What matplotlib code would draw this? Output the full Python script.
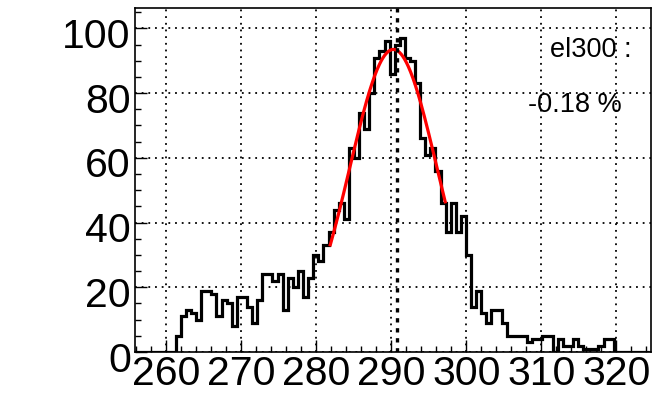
import numpy as np
import matplotlib
matplotlib.use("Agg")
import matplotlib.pyplot as plt
import matplotlib.transforms as mtransforms
from matplotlib.ticker import MultipleLocator

plt.rcParams["font.family"] = ["Liberation Sans", "DejaVu Sans"]

# reconstructed energy histogram, el300 run
x_lo = 255.9
x_hi = 324.6
bin_w = 0.678
counts = [0, 0, 0, 0, 0, 0, 0, 0,
          5, 11, 13, 12, 10, 19, 19, 18, 11, 16,
          15, 8, 17, 17, 14, 9, 16, 24, 24, 22,
          24, 13, 23, 20, 25, 17, 23, 30, 28, 33,
          37, 44, 46, 41, 63, 60, 74, 69, 80, 91,
          93, 96, 86, 95, 97, 91, 90, 83, 66, 61,
          63, 56, 46, 37, 46, 37, 42, 30, 14, 19,
          12, 9, 13, 13, 9, 5, 5, 5, 5, 3,
          4, 4, 5, 5, 0, 4, 2, 2, 4, 2,
          1, 1, 1, 2, 4, 4,
          0, 0, 0, 0, 0, 0, 0]

# gaussian fit around the peak
fit_amp = 93.5
fit_mean = 290.3
fit_sigma = 5.83
fit_lo, fit_hi = 281.9, 297.2

peak_pos = 290.84
label_top = "el300 :"
label_bottom = "-0.18 %"

edges = x_lo + bin_w * np.arange(len(counts) + 1)

fig = plt.figure(figsize=(6.6, 3.93), dpi=100)
ax = fig.add_axes([135 / 660, 1 - 352 / 393, 516 / 660, 344 / 393])

ax.grid(True, which="major", color="black", linestyle=(0, (1, 2.7)), linewidth=1.3)

ax.stairs(counts, edges, baseline=None, color="black", linewidth=2.3, zorder=3)

xf = np.linspace(fit_lo, fit_hi, 200)
yf = fit_amp * np.exp(-0.5 * ((xf - fit_mean) / fit_sigma) ** 2)
ax.plot(xf, yf, color="#ff0000", linewidth=2.3, zorder=4)

ax.axvline(peak_pos, color="black", linewidth=2.4, linestyle=(0, (1.3, 1.7)), zorder=5)

ax.set_xlim(x_lo, x_hi)
ax.set_ylim(0, 106.3)
ax.xaxis.set_major_locator(MultipleLocator(10))
ax.xaxis.set_minor_locator(MultipleLocator(2))
ax.yaxis.set_major_locator(MultipleLocator(20))
ax.yaxis.set_minor_locator(MultipleLocator(5))

ax.tick_params(which="both", direction="in", top=False, right=False, width=1.0, labelsize=29.5)
ax.tick_params(which="major", length=8.6)
ax.tick_params(which="minor", length=4.3)
ax.tick_params(axis="x", pad=2.5)
ax.tick_params(axis="y", pad=3)
for s in ax.spines.values():
    s.set_linewidth(1.2)

# ROOT-style labels sit a little lower than their ticks
shift = mtransforms.ScaledTranslation(0, -4.5 / 100, fig.dpi_scale_trans)
for lab in ax.get_yticklabels():
    lab.set_transform(lab.get_transform() + shift)

ax.text(0.804, 0.8576, label_top, transform=ax.transAxes, fontsize=19.5, va="baseline", ha="left")
ax.text(0.7616, 0.6977, label_bottom, transform=ax.transAxes, fontsize=19.5, va="baseline", ha="left")

fig.savefig("out.png", dpi=100)
